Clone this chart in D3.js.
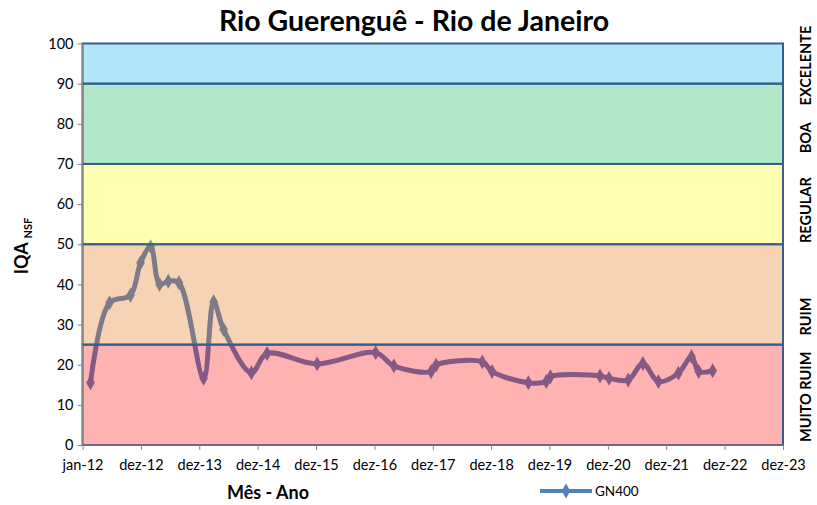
<!DOCTYPE html>
<html>
<head>
<meta charset="utf-8">
<script src="https://cdn.jsdelivr.net/npm/d3@7"></script>
<style>
  body { margin: 0; background: #fff; }
  text { font-family: Lato, "Liberation Sans", sans-serif; fill: #000; }
  .tick text { font-size: 14.5px; }
  .axis path, .axis line { stroke: #868686; }
</style>
</head>
<body>
<div id="chart"></div>
<script>
// sample dates and IQA values (GN400)
const dates = [
  "2012-02-20", "2012-06-18", "2012-10-27", "2012-12-29", "2013-03-02",
  "2013-04-27", "2013-06-20", "2013-08-26", "2014-01-27", "2014-03-31",
  "2014-06-01", "2014-11-22", "2015-02-28", "2016-01-07", "2017-01-07",
  "2017-05-01", "2017-12-20", "2018-01-20", "2018-11-05", "2019-01-05",
  "2019-08-20", "2019-12-10", "2020-01-05", "2020-11-10", "2021-01-05",
  "2021-05-05", "2021-08-05", "2021-11-10", "2022-03-15", "2022-06-05",
  "2022-07-20", "2022-10-15"
]
const values = [
  15.5, 35.4, 37.3, 45.4, 49.4,
  40.0, 40.8, 40.4, 16.6, 35.7,
  28.8, 18.0, 22.8, 20.2, 23.0,
  19.7, 18.3, 19.9, 20.7, 18.3,
  15.5, 15.8, 17.0, 17.2, 16.6,
  16.2, 20.3, 15.8, 17.9, 22.0,
  18.3, 18.5
]
const seriesName = "GN400"

// x axis ticks (every 365 days from jan-12)
const tickDates = [
  "2012-01-01", "2012-12-31", "2013-12-31", "2014-12-31", "2015-12-31",
  "2016-12-30", "2017-12-30", "2018-12-30", "2019-12-30", "2020-12-29",
  "2021-12-29", "2022-12-29", "2023-12-29"
]
const tickLabels = [
  "jan-12", "dez-12", "dez-13", "dez-14", "dez-15", "dez-16", "dez-17",
  "dez-18", "dez-19", "dez-20", "dez-21", "dez-22", "dez-23"
]
const yTicks = [0, 10, 20, 30, 40, 50, 60, 70, 80, 90, 100]

// quality classes
const bandNames = ["MUITO RUIM", "RUIM", "REGULAR", "BOA", "EXCELENTE"]
const bandLow   = [0, 25, 50, 70, 90]
const bandHigh  = [25, 50, 70, 90, 100]
const bandColors = ["#ff0000", "#e46c0a", "#ffff00", "#00b050", "#00b0f0"]
const bandLabelAt = [12, 32, 58.5, 76.5, 94.5]

const parse = d3.timeParse("%Y-%m-%d")
const data = dates.map((d, i) => ({ date: parse(d), value: values[i] }))

const W = 817, H = 505
const plot = { left: 82.5, right: 783, top: 43.5, bottom: 445 }

const svg = d3.select("#chart").append("svg")
  .attr("width", W)
  .attr("height", H)

const xScale = d3.scaleTime()
  .domain([parse(tickDates[0]), parse(tickDates[tickDates.length - 1])])
  .range([plot.left, plot.right])

const yScale = d3.scaleLinear()
  .domain([0, 100])
  .range([plot.bottom, plot.top])

//Series line (drawn under the translucent bands)
const line = d3.line()
  .x(d => xScale(d.date))
  .y(d => yScale(d.value))
  .curve(d3.curveCatmullRom)

svg.append("path")
  .datum(data)
  .attr("d", line)
  .attr("fill", "none")
  .attr("stroke", "#4f81bd")
  .attr("stroke-width", 5)
  .attr("stroke-linejoin", "round")

const diamond = d3.symbol().type(d3.symbolDiamond).size(64)
svg.selectAll(".pt")
  .data(data)
  .enter()
    .append("path")
    .attr("class", "pt")
    .attr("d", diamond)
    .attr("transform", d => `translate(${xScale(d.date)},${yScale(d.value)})`)
    .attr("fill", "#4f81bd")

//Bands
svg.selectAll(".band")
  .data(bandLow)
  .enter()
    .append("rect")
    .attr("class", "band")
    .attr("x", plot.left)
    .attr("width", plot.right - plot.left)
    .attr("y", (d, i) => yScale(bandHigh[i]))
    .attr("height", (d, i) => yScale(d) - yScale(bandHigh[i]))
    .attr("fill", (d, i) => bandColors[i])
    .attr("fill-opacity", 0.3)
    .attr("stroke", "#385d8a")
    .attr("stroke-width", 2)

//Axes
const yAxis = svg.append("g")
  .attr("class", "axis")
  .attr("transform", `translate(${plot.left},0)`)
  .call(d3.axisLeft(yScale).tickValues(yTicks).tickSize(5).tickPadding(4))
yAxis.select(".domain").remove()
yAxis.append("line")
  .attr("x1", 0).attr("x2", 0)
  .attr("y1", plot.top).attr("y2", plot.bottom)
  .attr("stroke", "#868686")

const xAxis = svg.append("g")
  .attr("class", "axis")
  .attr("transform", `translate(0,${plot.bottom})`)
  .call(d3.axisBottom(xScale)
    .tickValues(tickDates.map(parse))
    .tickFormat((d, i) => tickLabels[i])
    .tickSize(5)
    .tickPadding(10))
xAxis.select(".domain").remove()
xAxis.append("line")
  .attr("x1", plot.left).attr("x2", plot.right)
  .attr("stroke", "#868686")

//Band names on the right
svg.selectAll(".bandname")
  .data(bandNames)
  .enter()
    .append("text")
    .attr("class", "bandname")
    .attr("transform", (d, i) => `translate(811,${yScale(bandLabelAt[i])}) rotate(-90)`)
    .attr("text-anchor", "middle")
    .style("font-size", "14.5px")
    .style("font-weight", "bold")
    .text(d => d)

//Title
svg.append("text")
  .attr("x", 414)
  .attr("y", 31)
  .attr("text-anchor", "middle")
  .style("font-size", "28.5px")
  .style("font-weight", "bold")
  .text("Rio Guerenguê - Rio de Janeiro")

//y Axis Title
const yTitle = svg.append("text")
  .attr("transform", `translate(28,246) rotate(-90)`)
  .attr("text-anchor", "middle")
  .style("font-size", "18px")
  .style("font-weight", "bold")
yTitle.append("tspan").text("IQA ")
yTitle.append("tspan")
  .attr("dy", 4)
  .style("font-size", "11px")
  .text("NSF")

//x Axis Title
svg.append("text")
  .attr("x", 268)
  .attr("y", 499)
  .attr("text-anchor", "middle")
  .style("font-size", "18px")
  .style("font-weight", "bold")
  .text("Mês - Ano")

//Legend
const legend = svg.append("g").attr("transform", "translate(540,491)")
legend.append("line")
  .attr("x1", 0).attr("x2", 52)
  .attr("stroke", "#4f81bd")
  .attr("stroke-width", 4)
legend.append("path")
  .attr("d", diamond)
  .attr("transform", "translate(26,0)")
  .attr("fill", "#4f81bd")
legend.append("text")
  .attr("x", 55)
  .attr("y", 5)
  .style("font-size", "13.5px")
  .text(seriesName)
</script>
</body>
</html>
